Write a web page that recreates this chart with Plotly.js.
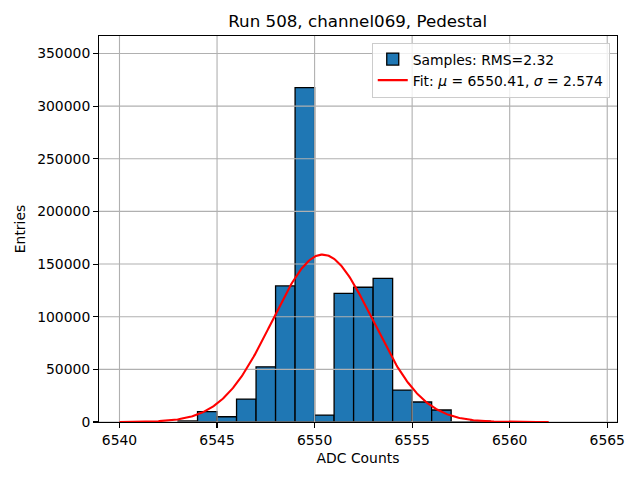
<!DOCTYPE html>
<html><head><meta charset="utf-8">
<script src="https://cdn.plot.ly/plotly-3.0.1.min.js"></script>
<style>html,body{margin:0;padding:0;background:#fff}#chart{width:640px;height:480px}</style>
</head><body><div id="chart"></div>
<script>
// Histogram bins (left edges, width 1) and counts
const binEdges = [6543, 6544, 6545, 6546, 6547, 6548, 6549, 6550, 6551, 6552, 6553, 6554, 6555, 6556, 6557, 6558];
const counts   = [1000, 9800, 5000, 21800, 52400, 129200, 317500, 6600, 122200, 128000, 136500, 30300, 19000, 11400, 0, 800];
const binWidth = 1;

// Gaussian fit parameters (as in legend) and read amplitude
const fitMu = 6550.41;
const fitSigma = 2.574;
const fitAmp = 159000;
const fitXStart = 6540;
const fitXEnd = 6562;

const xTicks = [6540, 6545, 6550, 6555, 6560, 6565];
const yTicks = [0, 50000, 100000, 150000, 200000, 250000, 300000, 350000];
const xRange = [6538.95, 6565.5];
const yRange = [0, 366600];

const titleText = 'Run 508, channel069, Pedestal';
const sampleLabel = 'Samples: RMS=2.32';
const fitLabel = 'Fit: <i>μ</i> = 6550.41, <i>σ</i> = 2.574';

const fitX = [], fitY = [];
const nPts = 400;
for (let i = 0; i <= nPts; i++) {
  const x = fitXStart + (fitXEnd - fitXStart) * i / nPts;
  fitX.push(x);
  fitY.push(fitAmp * Math.exp(-0.5 * Math.pow((x - fitMu) / fitSigma, 2)));
}

// grid drawn above bars, below fit line (matplotlib ordering)
const gx = [], gy = [];
xTicks.forEach(t => { gx.push(t, t, null); gy.push(yRange[0], yRange[1], null); });
yTicks.forEach(t => { gx.push(xRange[0], xRange[1], null); gy.push(t, t, null); });

const font = 'DejaVu Sans, Liberation Sans, sans-serif';

const traces = [
  {
    type: 'bar', x: binEdges, y: counts, width: binWidth, offset: 0,
    marker: {color: '#1f77b4', line: {color: '#000000', width: 1.3}},
    name: sampleLabel, showlegend: true, hoverinfo: 'skip'
  },
  {
    type: 'scatter', mode: 'lines', x: gx, y: gy,
    line: {color: '#b0b0b0', width: 1.1}, showlegend: false, hoverinfo: 'skip', connectgaps: false
  },
  {
    type: 'scatter', mode: 'lines', x: fitX, y: fitY,
    line: {color: '#ff0000', width: 2.1}, name: fitLabel, hoverinfo: 'skip'
  }
];

const layout = {
  width: 640, height: 480,
  margin: {l: 98.5, r: 22.7, t: 35.5, b: 57.7, pad: 0},
  paper_bgcolor: '#ffffff', plot_bgcolor: '#ffffff',
  font: {family: font, size: 13.9, color: '#000000'},
  title: {text: titleText, font: {family: font, size: 16.7, color: '#000000'},
          x: 0.5589, xanchor: 'center', y: 0.955, yanchor: 'middle'},
  bargap: 0,
  hovermode: false,
  xaxis: {
    range: xRange, tickvals: xTicks, ticktext: xTicks.map(String),
    showgrid: false, zeroline: false,
    showline: true, linecolor: '#000000', linewidth: 1.1, mirror: true,
    ticks: 'outside', ticklen: 4.9, tickwidth: 1.1, tickcolor: '#000000',
    tickfont: {family: font, size: 13.9, color: '#000000'},
    title: {text: 'ADC Counts', font: {family: font, size: 13.9, color: '#000000'}, standoff: 6}
  },
  yaxis: {
    range: yRange, tickvals: yTicks, ticktext: yTicks.map(String),
    showgrid: false, zeroline: false,
    showline: true, linecolor: '#000000', linewidth: 1.1, mirror: true,
    ticks: 'outside', ticklen: 4.9, tickwidth: 1.1, tickcolor: '#000000',
    tickfont: {family: font, size: 13.9, color: '#000000'},
    title: {text: 'Entries', font: {family: font, size: 13.9, color: '#000000'}, standoff: 8}
  },
  legend: {
    x: 0.986, xanchor: 'right', y: 0.983, yanchor: 'top',
    bgcolor: 'rgba(255,255,255,0.8)', bordercolor: '#cccccc', borderwidth: 1,
    font: {family: font, size: 13.9, color: '#000000'},
    tracegroupgap: 0, itemwidth: 30
  }
};

Plotly.newPlot('chart', traces, layout, {staticPlot: true, displayModeBar: false});
</script>
</body></html>
